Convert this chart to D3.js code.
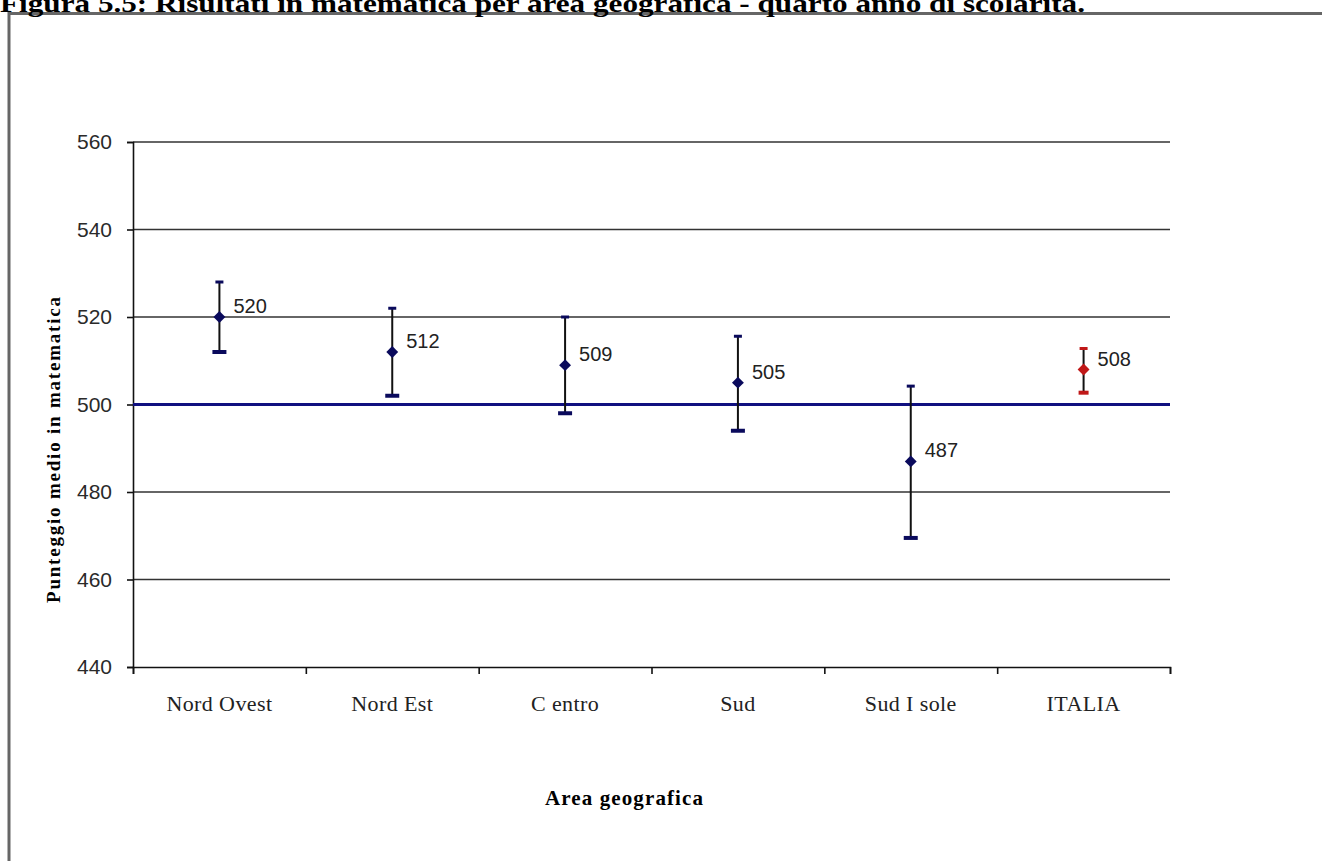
<!DOCTYPE html>
<html><head><meta charset="utf-8">
<script src="https://cdn.jsdelivr.net/npm/d3@7"></script>
<style>html,body{margin:0;padding:0;background:#fff;overflow:hidden}</style>
</head><body>
<svg id="c" width="1322" height="861"></svg>
<script>
const categories = ["Nord Ovest","Nord Est","Centro","Sud","Sud Isole","ITALIA"];
const xLabels = ["Nord Ovest","Nord Est","C entro","Sud","Sud I sole","ITALIA"];
const means = [520, 512, 509, 505, 487, 508];
const upper = [528, 522, 520, 515.6, 504.2, 512.8];
const lower = [512, 502, 498, 494, 469.5, 502.7];
const highlight = [false,false,false,false,false,true];
const yTicks = [440,460,480,500,520,540,560];
const reference = 500;
const title = "Figura 5.5: Risultati in matematica per area geografica - quarto anno di scolarità.";

const svg = d3.select("#c");
const mLeft = 133, mRight = 1170, mTop = 142, mBottom = 667;
const x = d3.scaleBand().domain(categories).range([mLeft, mRight]);
const y = d3.scaleLinear().domain([440, 560]).range([mBottom, mTop]);

// frame
svg.append("rect").attr("x", 9).attr("y", 13.5).attr("width", 1340).attr("height", 900)
  .attr("fill", "none").attr("stroke", "#666").attr("stroke-width", 3);

// title (partly cut by the top edge, as in the source)
svg.append("text").attr("x", 0).attr("y", 12)
  .attr("font-family", "Liberation Serif").attr("font-weight", "bold").attr("font-size", 25)
  .attr("textLength", 1085).attr("lengthAdjust", "spacingAndGlyphs")
  .text(title);

// gridlines
svg.append("g").selectAll("line").data(yTicks.filter(d => d !== 440)).join("line")
  .attr("x1", mLeft).attr("x2", mRight).attr("y1", d => y(d)).attr("y2", d => y(d))
  .attr("stroke", "#333").attr("stroke-width", 1.6);

// y axis
const yAxis = d3.axisLeft(y).tickValues(yTicks).tickSize(6).tickPadding(15).tickFormat(d3.format("d"));
const gy = svg.append("g").attr("transform", `translate(${mLeft},0)`).call(yAxis);
gy.select(".domain").attr("stroke", "#111").attr("stroke-width", 1.6);
gy.selectAll(".tick line").attr("stroke", "#111").attr("stroke-width", 1.6);
gy.selectAll(".tick text").attr("font-family", "Liberation Sans").attr("font-size", 21).attr("fill", "#2a2a2a");

// x axis
const xb = d3.scaleLinear().domain([0, categories.length]).range([mLeft, mRight]);
const gx = svg.append("g").attr("transform", `translate(0,${mBottom})`)
  .call(d3.axisBottom(xb).tickValues(d3.range(0, categories.length + 1)).tickSize(7).tickFormat(""));
gx.select(".domain").attr("stroke", "#111").attr("stroke-width", 1.6);
gx.selectAll(".tick line").attr("stroke", "#111").attr("stroke-width", 1.6);
svg.append("g").selectAll("text").data(categories).join("text")
  .attr("x", d => x(d) + x.bandwidth() / 2).attr("y", 711)
  .attr("text-anchor", "middle").attr("font-family", "Liberation Serif").attr("font-size", 22)
  .attr("letter-spacing", 0.4).attr("fill", "#222")
  .text((d, i) => xLabels[i]);

// reference line
svg.append("line").attr("x1", mLeft).attr("x2", mRight).attr("y1", y(reference)).attr("y2", y(reference))
  .attr("stroke", "#101080").attr("stroke-width", 3);

// error bars
const cx = d => x(d) + x.bandwidth() / 2;
const g = svg.append("g");
categories.forEach((c, i) => {
  const col = highlight[i] ? "#c01818" : "#0a0a5c";
  const px = cx(c);
  g.append("line").attr("x1", px).attr("x2", px).attr("y1", y(upper[i])).attr("y2", y(lower[i]))
    .attr("stroke", "#111").attr("stroke-width", 2);
  g.append("line").attr("x1", px - 4).attr("x2", px + 4).attr("y1", y(upper[i])).attr("y2", y(upper[i]))
    .attr("stroke", col).attr("stroke-width", 3);
  g.append("line").attr("x1", px - (highlight[i] ? 5 : 7)).attr("x2", px + (highlight[i] ? 5 : 7))
    .attr("y1", y(lower[i])).attr("y2", y(lower[i]))
    .attr("stroke", col).attr("stroke-width", 4);
  g.append("path").attr("d", d3.symbol(d3.symbolDiamond2, 90)())
    .attr("transform", `translate(${px},${y(means[i])})`).attr("fill", col);
  g.append("text").attr("x", px + 14).attr("y", y(means[i]) - 4)
    .attr("font-family", "Liberation Sans").attr("font-size", 20).attr("fill", "#222")
    .text(means[i]);
});

// axis titles
svg.append("text").attr("x", 624).attr("y", 805).attr("text-anchor", "middle")
  .attr("font-family", "Liberation Serif").attr("font-weight", "bold").attr("font-size", 21)
  .attr("textLength", 158).attr("lengthAdjust", "spacing")
  .text("Area geografica");
svg.append("text").attr("transform", "translate(60,450) rotate(-90)").attr("text-anchor", "middle")
  .attr("font-family", "Liberation Serif").attr("font-weight", "bold").attr("font-size", 19)
  .attr("textLength", 306).attr("lengthAdjust", "spacing")
  .text("Punteggio medio in matematica");
</script>
</body></html>
